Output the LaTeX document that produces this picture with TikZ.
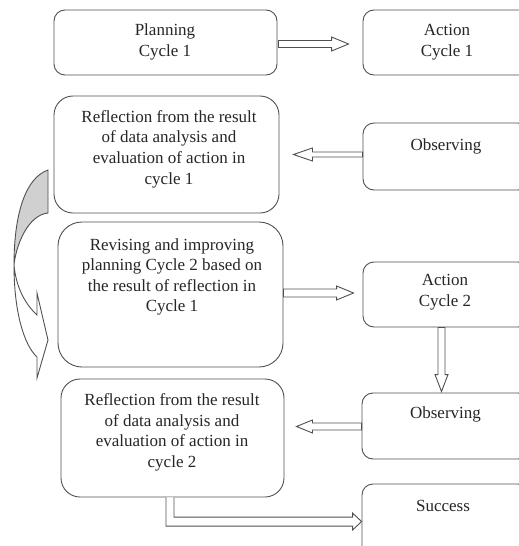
\documentclass[tikz,border=0pt]{standalone}
\usepackage{fontspec}
\setmainfont{Liberation Serif}
\usetikzlibrary{calc}
\definecolor{linec}{HTML}{505050}
\definecolor{shadec}{HTML}{D0D0D0}
\tikzset{
  rbox/.style={draw=linec, line width=0.9pt, rectangle, rounded corners=#1, inner sep=0pt},
  txt/.style={font=\fontsize{17}{20.6}\selectfont, align=center, inner sep=0pt, text=black!85},
  blk/.style={draw=linec, line width=0.9pt, fill=white, line join=miter}
}
% horizontal block arrow: start, tip, shaft half width, head half width, head length
\newcommand{\harrow}[5]{%
  \draw[blk] let \p1=(#1), \p2=(#2) in
    (\x1,{\y1+#3}) -- ({\x2-sign(\x2-\x1)*#5},{\y1+#3}) -- ({\x2-sign(\x2-\x1)*#5},{\y1+#4})
    -- (\x2,\y1) -- ({\x2-sign(\x2-\x1)*#5},{\y1-#4}) -- ({\x2-sign(\x2-\x1)*#5},{\y1-#3})
    -- (\x1,{\y1-#3}) -- cycle;}
% vertical block arrow
\newcommand{\varrow}[5]{%
  \draw[blk] let \p1=(#1), \p2=(#2) in
    ({\x1+#3},\y1) -- ({\x1+#3},{\y2-sign(\y2-\y1)*#5}) -- ({\x1+#4},{\y2-sign(\y2-\y1)*#5})
    -- (\x1,\y2) -- ({\x1-#4},{\y2-sign(\y2-\y1)*#5}) -- ({\x1-#3},{\y2-sign(\y2-\y1)*#5})
    -- ({\x1-#3},\y1) -- cycle;}
\begin{document}
\begin{tikzpicture}[x=1pt,y=-1pt]
\useasboundingbox (0,0) rectangle (519,546);
\clip (0,0) rectangle (519,546);
\fill[white] (0,0) rectangle (519,546);

% boxes
\node[rbox=11pt, minimum width=223pt, minimum height=65pt] (plan1) at (165.5,42.5) {};
\node[rbox=11pt, minimum width=168pt, minimum height=65pt] (act1) at (447,42.5) {};
\node[rbox=19pt, minimum width=225pt, minimum height=117pt] (refl1) at (166.5,154.5) {};
\node[rbox=11pt, minimum width=166pt, minimum height=67pt] (obs1) at (446,156.5) {};
\node[rbox=24pt, minimum width=225pt, minimum height=145pt] (rev) at (170.5,294.5) {};
\node[rbox=11pt, minimum width=166pt, minimum height=65pt] (act2) at (446,294.5) {};
\node[rbox=19pt, minimum width=223pt, minimum height=118pt] (refl2) at (172.5,438) {};
\node[rbox=11pt, minimum width=167pt, minimum height=66pt] (obs2) at (445.5,426) {};
\node[rbox=11pt, minimum width=167pt, minimum height=96pt] (succ) at (445.5,532) {};

% texts
\node[txt] (tplan1) at (165,42) {Planning\\Cycle 1};
\node[txt] (tact1) at (447,42) {Action\\Cycle 1};
\node[txt] (trefl1) at (169,149) {Reflection from the result\\of data analysis and\\evaluation of action in\\cycle 1};
\node[txt] (tobs1) at (446,146) {Observing};
\node[txt] (trev) at (172,277) {Revising and improving\\planning Cycle 2 based on\\the result of reflection in\\Cycle 1};
\node[txt] (tact2) at (445,292) {Action\\Cycle 2};
\node[txt] (trefl2) at (172,432.5) {Reflection from the result\\of data analysis and\\evaluation of action in\\cycle 2};
\node[txt] (tobs2) at (445.5,414) {Observing};
\node[txt] (tsucc) at (443,506) {Success};

% block arrows
\harrow{$(plan1.east)+(1,1.5)$}{$(act1.west)+(-14,0)$}{3.5pt}{7pt}{17pt}
\harrow{$(obs1.west)+(0,-2)$}{$(refl1.east)+(14,0)$}{2.5pt}{6.5pt}{19pt}
\harrow{$(rev.east)+(0,-1.5)$}{$(act2.west)+(-9,0)$}{4pt}{7pt}{17pt}
\varrow{$(act2.south)+(-4.5,0)$}{$(obs2.north)+(0,-1)$}{3.5pt}{6.5pt}{17pt}
\harrow{$(obs2.west)+(0,0.5)$}{$(refl2.east)+(12,0)$}{3.5pt}{6.5pt}{16pt}

% elbow arrow from reflection 2 to success
\draw[blk] let \p1=($(refl2.south)+(-2.5,0)$), \p2=($(succ.north west)+(0,38)$) in
  ({\x1-4pt},\y1) -- ({\x1-4pt},{\y2-4.5pt}) -- ({\x2-9pt},{\y2-4.5pt}) -- ({\x2-9pt},{\y2-8.5pt})
  -- (\x2,\y2) -- ({\x2-9pt},{\y2+8.5pt}) -- ({\x2-9pt},{\y2+4.5pt}) -- ({\x1+4pt},{\y2+4.5pt})
  -- ({\x1+4pt},\y1);

% curved arrow from reflection 1 to revising
\draw[blk, fill=shadec] (48,170) .. controls (25,178) and (14,215) .. (14,265)
  .. controls (16,245) and (28,215) .. (48,213) -- cycle;
\draw[blk] (14,265) .. controls (14,312) and (24,345) .. (37,357) -- (37,378) -- (48,340)
  -- (37,293) -- (37,315) .. controls (26,305) and (16,288) .. (14,265) -- cycle;
\end{tikzpicture}
\end{document}
